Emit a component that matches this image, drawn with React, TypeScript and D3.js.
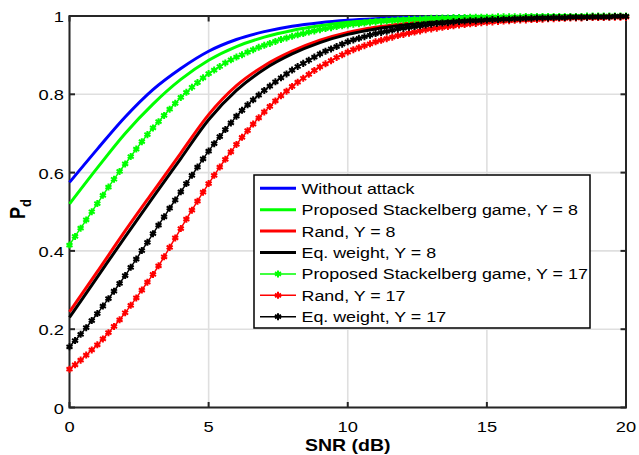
import React from 'react';
import * as d3 from 'd3';

// SNR grid (dB) for the solid curves (1 dB steps)
const SNR_COARSE = [0, 1, 2, 3, 4, 5, 6, 7, 8, 9, 10, 11, 12, 13, 14, 15, 16, 17, 18, 19, 20];

const withoutAttack = [0.575, 0.660, 0.742, 0.812, 0.866, 0.910, 0.940, 0.960, 0.974, 0.983, 0.989, 0.993, 0.996, 0.997, 0.998, 0.999, 0.999, 1.000, 1.000, 1.000, 1.000];
const stackelberg8 = [0.520, 0.612, 0.700, 0.775, 0.838, 0.887, 0.922, 0.946, 0.963, 0.975, 0.984, 0.989, 0.993, 0.995, 0.997, 0.998, 0.999, 0.999, 1.000, 1.000, 1.000];
const rand8 = [0.244, 0.347, 0.451, 0.551, 0.650, 0.748, 0.822, 0.873, 0.910, 0.938, 0.958, 0.971, 0.980, 0.987, 0.991, 0.994, 0.996, 0.997, 0.998, 0.999, 0.999];
const eqWeight8 = [0.230, 0.333, 0.436, 0.537, 0.636, 0.735, 0.810, 0.864, 0.903, 0.932, 0.953, 0.967, 0.977, 0.985, 0.990, 0.993, 0.995, 0.997, 0.998, 0.999, 0.999];

// SNR grid (dB) for the marked curves (0.2 dB steps, 0..20)
const SNR_FINE = d3.range(101).map((i) => i / 5);

const stackelberg17 = [
  0.415, 0.437, 0.458, 0.479, 0.500,
  0.521, 0.542, 0.563, 0.583, 0.603,
  0.622, 0.641, 0.660, 0.679, 0.697,
  0.714, 0.730, 0.746, 0.762, 0.777,
  0.792, 0.805, 0.818, 0.830, 0.842,
  0.853, 0.862, 0.871, 0.880, 0.888,
  0.895, 0.901, 0.908, 0.914, 0.920,
  0.925, 0.930, 0.935, 0.940, 0.944,
  0.948, 0.952, 0.955, 0.959, 0.962,
  0.965, 0.968, 0.970, 0.973, 0.975,
  0.977, 0.979, 0.980, 0.982, 0.984,
  0.985, 0.986, 0.987, 0.988, 0.989,
  0.990, 0.991, 0.992, 0.992, 0.993,
  0.994, 0.994, 0.995, 0.995, 0.996,
  0.996, 0.996, 0.997, 0.997, 0.997,
  0.997, 0.997, 0.998, 0.998, 0.998,
  0.998, 0.998, 0.999, 0.999, 0.999,
  0.999, 0.999, 0.999, 0.999, 0.999,
  0.999, 0.999, 0.999, 1.000, 1.000,
  1.000, 1.000, 1.000, 1.000, 1.000,
  1.000,
];

const rand17 = [
  0.098, 0.109, 0.121, 0.134, 0.147,
  0.160, 0.175, 0.191, 0.207, 0.224,
  0.242, 0.261, 0.280, 0.300, 0.320,
  0.340, 0.362, 0.385, 0.409, 0.433,
  0.457, 0.481, 0.504, 0.527, 0.550,
  0.572, 0.593, 0.614, 0.634, 0.653,
  0.672, 0.690, 0.707, 0.724, 0.740,
  0.755, 0.769, 0.783, 0.796, 0.808,
  0.820, 0.831, 0.841, 0.851, 0.861,
  0.870, 0.878, 0.886, 0.894, 0.901,
  0.908, 0.914, 0.919, 0.924, 0.929,
  0.934, 0.938, 0.942, 0.946, 0.950,
  0.953, 0.956, 0.959, 0.962, 0.965,
  0.967, 0.969, 0.971, 0.973, 0.975,
  0.977, 0.978, 0.980, 0.981, 0.983,
  0.984, 0.985, 0.986, 0.987, 0.988,
  0.989, 0.990, 0.990, 0.991, 0.991,
  0.992, 0.993, 0.993, 0.994, 0.994,
  0.995, 0.995, 0.995, 0.996, 0.996,
  0.996, 0.996, 0.997, 0.997, 0.997,
  0.997,
];

const eqWeight17 = [
  0.155, 0.171, 0.187, 0.204, 0.222,
  0.240, 0.259, 0.278, 0.297, 0.317,
  0.337, 0.358, 0.379, 0.401, 0.422,
  0.444, 0.466, 0.487, 0.509, 0.530,
  0.551, 0.572, 0.593, 0.614, 0.635,
  0.655, 0.674, 0.692, 0.710, 0.727,
  0.744, 0.759, 0.773, 0.786, 0.798,
  0.810, 0.821, 0.832, 0.842, 0.852,
  0.862, 0.871, 0.879, 0.887, 0.895,
  0.903, 0.910, 0.916, 0.922, 0.928,
  0.934, 0.939, 0.943, 0.947, 0.951,
  0.955, 0.958, 0.961, 0.964, 0.967,
  0.969, 0.971, 0.973, 0.975, 0.977,
  0.979, 0.981, 0.982, 0.983, 0.985,
  0.986, 0.987, 0.988, 0.988, 0.989,
  0.990, 0.991, 0.991, 0.992, 0.992,
  0.993, 0.993, 0.994, 0.994, 0.995,
  0.995, 0.995, 0.996, 0.996, 0.996,
  0.997, 0.997, 0.997, 0.997, 0.998,
  0.998, 0.998, 0.998, 0.999, 0.999,
  0.999,
];

const X_TICKS = [0, 5, 10, 15, 20];
const Y_TICKS = [0, 0.2, 0.4, 0.6, 0.8, 1];
const X_TICK_LABELS = ['0', '5', '10', '15', '20'];
const Y_TICK_LABELS = ['0', '0.2', '0.4', '0.6', '0.8', '1'];

const SERIES_LABELS = [
  'Without attack',
  'Proposed Stackelberg game, Y = 8',
  'Rand, Y = 8',
  'Eq. weight, Y = 8',
  'Proposed Stackelberg game, Y = 17',
  'Rand, Y = 17',
  'Eq. weight, Y = 17',
];
const SERIES_COLORS = ['#0000ff', '#00ff00', '#ff0000', '#000000', '#00ff00', '#ff0000', '#000000'];

const W = 639;
const H = 455;
const FONT = "'Liberation Sans', Arial, Helvetica, sans-serif";

type Series = { label: string; color: string; xs: number[]; ys: number[]; marker: boolean };

const series: Series[] = [
  { label: SERIES_LABELS[0], color: SERIES_COLORS[0], xs: SNR_COARSE, ys: withoutAttack, marker: false },
  { label: SERIES_LABELS[1], color: SERIES_COLORS[1], xs: SNR_COARSE, ys: stackelberg8, marker: false },
  { label: SERIES_LABELS[2], color: SERIES_COLORS[2], xs: SNR_COARSE, ys: rand8, marker: false },
  { label: SERIES_LABELS[3], color: SERIES_COLORS[3], xs: SNR_COARSE, ys: eqWeight8, marker: false },
  { label: SERIES_LABELS[4], color: SERIES_COLORS[4], xs: SNR_FINE, ys: stackelberg17, marker: true },
  { label: SERIES_LABELS[5], color: SERIES_COLORS[5], xs: SNR_FINE, ys: rand17, marker: true },
  { label: SERIES_LABELS[6], color: SERIES_COLORS[6], xs: SNR_FINE, ys: eqWeight17, marker: true },
];

function STxt(props: {
  x: number; y: number; size: number; sx: number; anchor?: string; bold?: boolean; children: React.ReactNode;
}) {
  const { x, y, size, sx, anchor = 'start', bold = false, children } = props;
  return (
    <text
      transform={`translate(${x},${y}) scale(${sx},1)`}
      fontFamily={FONT}
      fontSize={size}
      fontWeight={bold ? 'bold' : 'normal'}
      textAnchor={anchor as any}
      fill="#000"
    >
      {children}
    </text>
  );
}

export default function App() {
  const left = 69.5, right = 626, top = 16, bottom = 407.5;
  const x = d3.scaleLinear().domain([0, 20]).range([left, right]);
  const y = d3.scaleLinear().domain([0, 1]).range([bottom, top]);

  const line = d3
    .line<[number, number]>()
    .x((d) => x(d[0]))
    .y((d) => y(d[1]))
    .curve(d3.curveMonotoneX);

  const markerPath = d3.symbol().type(d3.symbolAsterisk).size(34)() as string;
  const axisColor = '#262626';
  const gridColor = '#dfdfdf';
  const tickLen = 5.5;

  const legX = 254, legY = 175, legW = 336, legH = 153;
  const rowH = 21.4;

  return (
    <svg
      width={W}
      height={H}
      viewBox={`0 0 ${W} ${H}`}
      style={{ position: 'absolute', left: 0, top: 0, background: '#fff' }}
    >
      <rect x={0} y={0} width={W} height={H} fill="#fff" />
      {/* grid */}
      {X_TICKS.map((t) => (
        <line key={'gx' + t} x1={x(t)} x2={x(t)} y1={top} y2={bottom} stroke={gridColor} strokeWidth={1.6} />
      ))}
      {Y_TICKS.map((t) => (
        <line key={'gy' + t} x1={left} x2={right} y1={y(t)} y2={y(t)} stroke={gridColor} strokeWidth={1.6} />
      ))}
      {/* box */}
      <rect x={left} y={top} width={right - left} height={bottom - top} fill="none" stroke={axisColor} strokeWidth={2} />
      {/* ticks */}
      {X_TICKS.map((t) => (
        <g key={'tx' + t}>
          <line x1={x(t)} x2={x(t)} y1={bottom} y2={bottom - tickLen} stroke={axisColor} strokeWidth={2} />
          <line x1={x(t)} x2={x(t)} y1={top} y2={top + tickLen} stroke={axisColor} strokeWidth={2} />
        </g>
      ))}
      {Y_TICKS.map((t) => (
        <g key={'ty' + t}>
          <line x1={left} x2={left + tickLen} y1={y(t)} y2={y(t)} stroke={axisColor} strokeWidth={2} />
          <line x1={right} x2={right - tickLen} y1={y(t)} y2={y(t)} stroke={axisColor} strokeWidth={2} />
        </g>
      ))}
      {/* tick labels */}
      {X_TICKS.map((t, i) => (
        <STxt key={'lx' + t} x={x(t)} y={bottom + 24} size={15} sx={1.22} anchor="middle">
          {X_TICK_LABELS[i]}
        </STxt>
      ))}
      {Y_TICKS.map((t, i) => (
        <STxt key={'ly' + t} x={64} y={y(t) + 6} size={15} sx={1.22} anchor="end">
          {Y_TICK_LABELS[i]}
        </STxt>
      ))}
      {/* data */}
      {series.map((s, si) => {
        const pts: [number, number][] = s.xs.map((v, i) => [v, s.ys[i]]);
        return (
          <g key={'s' + si}>
            <path d={line(pts) || ''} fill="none" stroke={s.color} strokeWidth={s.marker ? 1.5 : 3} />
            {s.marker &&
              pts.map((p, i) => (
                <path
                  key={i}
                  d={markerPath}
                  transform={`translate(${x(p[0])},${y(p[1])})`}
                  fill="none"
                  stroke={s.color}
                  strokeWidth={2}
                />
              ))}
          </g>
        );
      })}
      {/* axis labels */}
      <STxt x={(left + right) / 2} y={450.5} size={16.5} sx={1.18} anchor="middle" bold>
        SNR (dB)
      </STxt>
      <text
        transform={`translate(25,209) rotate(-90) scale(1,1.18)`}
        fontFamily={FONT}
        fontSize={18}
        fontWeight="bold"
        textAnchor="middle"
        fill="#000"
      >
        P<tspan dy={5} fontSize={13}>d</tspan>
      </text>
      {/* legend */}
      <rect x={legX} y={legY} width={legW} height={legH} fill="#fff" stroke="#000" strokeWidth={1.5} />
      {series.map((s, i) => {
        const cy = 188.3 + i * rowH;
        return (
          <g key={'lg' + i}>
            <line x1={260} x2={296} y1={cy} y2={cy} stroke={s.color} strokeWidth={s.marker ? 1.5 : 3} />
            {s.marker && (
              <path d={markerPath} transform={`translate(278,${cy})`} fill="none" stroke={s.color} strokeWidth={2} />
            )}
            <STxt x={301.5} y={cy + 5.5} size={15} sx={1.19}>
              {s.label}
            </STxt>
          </g>
        );
      })}
    </svg>
  );
}
